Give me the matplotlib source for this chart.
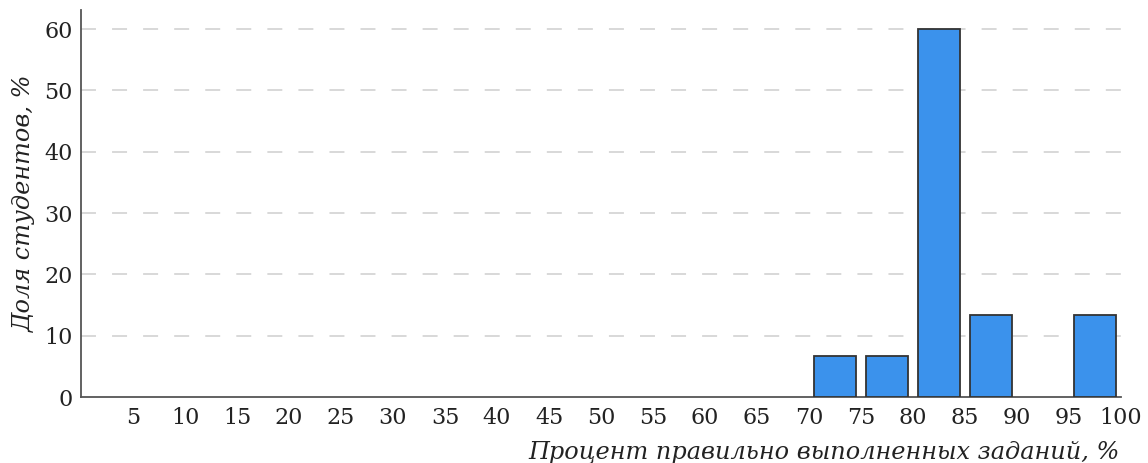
import matplotlib
matplotlib.use("Agg")
import matplotlib.pyplot as plt
import numpy as np

# bin upper edges (tick labels) and share of students per 5%-bin
bin_edges = [5, 10, 15, 20, 25, 30, 35, 40, 45, 50, 55, 60, 65, 70, 75, 80, 85, 90, 95, 100]
shares = [0, 0, 0, 0, 0, 0, 0, 0, 0, 0, 0, 0, 0, 0, 6.67, 6.67, 60.0, 13.33, 0, 13.33]
y_ticks = [0, 10, 20, 30, 40, 50, 60]

plt.rcParams['font.family'] = ['DejaVu Serif']

fig = plt.figure(figsize=(11.48, 4.63), dpi=100)
ax = fig.add_axes([81/1148, 1 - 397/463, (1121-81)/1148, (397-10)/463])

centers = [e - 2.5 for e in bin_edges]
nz = [(c, s) for c, s in zip(centers, shares) if s > 0]
ax.bar([c for c, _ in nz], [s for _, s in nz], width=4.0, color='#3b92ec',
       edgecolor='#333333', linewidth=1.3, zorder=3)

ax.set_xlim(0, 100)
ax.set_ylim(0, 63.1)
ax.set_xticks(bin_edges)
ax.set_xticklabels([str(e) for e in bin_edges])
ax.set_yticks(y_ticks)
ax.tick_params(axis='both', length=0, labelsize=16, colors='#222222', pad=7)
ax.tick_params(axis='y', pad=6)

for v in y_ticks[1:]:
    ln = ax.axhline(v, color='#d6d6d6', linewidth=1.3, zorder=1)
    ln.set_dashes((8.3, 8.9))
    ln.set_dash_capstyle('butt')

for s in ['top', 'right']:
    ax.spines[s].set_visible(False)
for s in ['left', 'bottom']:
    ax.spines[s].set_color('#555555')
    ax.spines[s].set_linewidth(1.3)

ax.set_ylabel('Доля студентов, %', fontsize=17.3, style='italic', color='#222222', labelpad=6)
fig.text(1120/1148, 1 - 452/463, 'Процент правильно выполненных заданий, %', ha='right', va='center',
         fontsize=17.3, style='italic', color='#222222')

fig.savefig('out.png', dpi=100)
